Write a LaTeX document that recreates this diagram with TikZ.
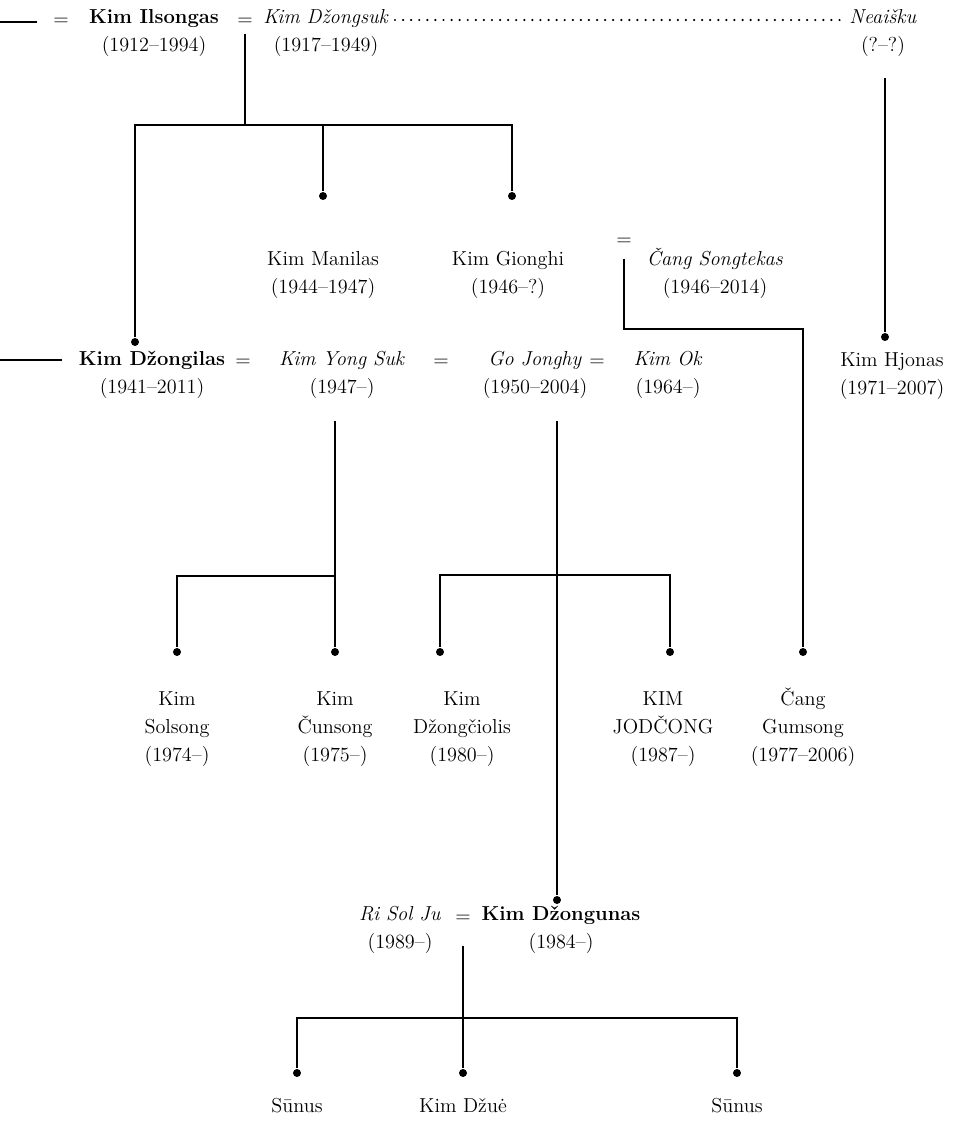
\documentclass[tikz,border=0pt]{standalone}

\begin{document}
\begin{tikzpicture}[-,x=0.02cm,y=-0.02cm,line width=1.1pt,
        person/.style={align=center,anchor=base,inner sep=1pt,font=\fontsize{11.5}{15.9}\selectfont},
        eq/.style={anchor=base,inner sep=1pt,font=\fontsize{11.5}{15.9}\selectfont},
        dot/.style={circle,fill,inner sep=0pt,minimum size=0.16cm},
        dotline/.style={line width=1.4pt,line cap=round,dash pattern=on 0pt off 4.6pt}]

                \useasboundingbox (0,0) rectangle (965,1127);

                \node[person] (ilsong) at (154,51) {\textbf{Kim Ilsongas}\\(1912–1994)};
                \node[person] (dzongsuk) at (326,51) {\textit{Kim Džongsuk}\\(1917–1949)};
                \node[person] (neaisku) at (883,51) {\textit{Neaišku}\\(?–?)};
                \node[eq] (m0) at (61,25) {=};
                \node[eq] (m1) at (245,25) {=};

                \node[person] (manilas) at (323,293) {Kim Manilas\\(1944–1947)};
                \node[person] (gionghi) at (508,293) {Kim Gionghi\\(1946–?)};
                \node[person] (songtekas) at (715,293) {\textit{Čang Songtekas}\\(1946–2014)};
                \node[eq] (m2) at (624,245) {=};

                \node[person] (dzongil) at (152,393) {\textbf{Kim Džongilas}\\(1941–2011)};
                \node[person] (yongsuk) at (342,393) {\textit{Kim Yong Suk}\\(1947–)};
                \node[person] (gojonghy) at (535,393) {\textit{Go Jonghy}\\(1950–2004)};
                \node[person] (kimok) at (668,393) {\textit{Kim Ok}\\(1964–)};
                \node[person] (hjonas) at (892,394) {Kim Hjonas\\(1971–2007)};
                \node[eq] (m3a) at (243,366) {=};
                \node[eq] (m3b) at (441,366) {=};
                \node[eq] (m3c) at (597,366) {=};

                \node[person] (solsong) at (177,761) {Kim\\Solsong\\(1974–)};
                \node[person] (cunsong) at (335,761) {Kim\\Čunsong\\(1975–)};
                \node[person] (dzongciol) at (462,761) {Kim\\Džongčiolis\\(1980–)};
                \node[person] (jodcong) at (663,761) {KIM\\JODČONG\\(1987–)};
                \node[person] (gumsong) at (803,761) {Čang\\Gumsong\\(1977–2006)};

                \node[person] (risolju) at (400,948) {\textit{Ri Sol Ju}\\(1989–)};
                \node[person] (dzongun) at (561,948) {\textbf{Kim Džongunas}\\(1984–)};
                \node[eq] (m5) at (463,922) {=};

                \node[person] (sunus1) at (297,1112) {Sūnus};
                \node[person] (dzue) at (463,1112) {Kim Džuė};
                \node[person] (sunus2) at (737,1112) {Sūnus};

                \node[dot] (d_dzongil) at (135,342) {};
                \node[dot] (d_manil) at (323,196) {};
                \node[dot] (d_giong) at (512,196) {};
                \node[dot] (d_hjonas) at (885,337) {};
                \node[dot] (d_solsong) at (177,652) {};
                \node[dot] (d_cunsong) at (335,652) {};
                \node[dot] (d_dzongciol) at (440,652) {};
                \node[dot] (d_jodcong) at (670,652) {};
                \node[dot] (d_gumsong) at (803,652) {};
                \node[dot] (d_dzongun) at (557,900) {};
                \node[dot] (d_sunus1) at (297,1073) {};
                \node[dot] (d_dzue) at (463,1073) {};
                \node[dot] (d_sunus2) at (737,1073) {};

                \coordinate (l1a) at (0,22);
                \coordinate (l1b) at (37,22);
                \coordinate (l3a) at (0,360);
                \coordinate (l3b) at (62,360);
                \coordinate (dl) at (395,20);
                \coordinate (j1) at (245,125);
                \coordinate (j2) at (624,329);
                \coordinate (j4) at (335,576);
                \coordinate (j5) at (557,575);
                \coordinate (j6) at (463,1018);

                \draw[-] (l1a) to (l1b);
                \draw[-] (l3a) to (l3b);
                \draw[dotline] (dl) -- (dl -| neaisku.west);
                \draw[-] (m1.south) ++(0,6) -- (j1);
                \draw[-] (d_dzongil) |- (j1) -| (d_giong);
                \draw[-] (d_manil |- j1) -- (d_manil);
                \draw[-] (d_hjonas |- neaisku.south) ++(0,19) -- (d_hjonas);
                \draw[-] (m2.south) ++(0,11) -- (j2) -| (d_gumsong);
                \draw[-] (d_cunsong |- yongsuk.south) ++(0,20) -- (d_cunsong);
                \draw[-] (d_solsong) |- (j4);
                \draw[-] (d_dzongun |- gojonghy.south) ++(0,20) -- (d_dzongun);
                \draw[-] (d_dzongciol) |- (j5) -| (d_jodcong);
                \draw[-] (m5.south) ++(0,21) -- (d_dzue);
                \draw[-] (d_sunus1) |- (j6) -| (d_sunus2);

                ;
            \end{tikzpicture}
\end{document}
